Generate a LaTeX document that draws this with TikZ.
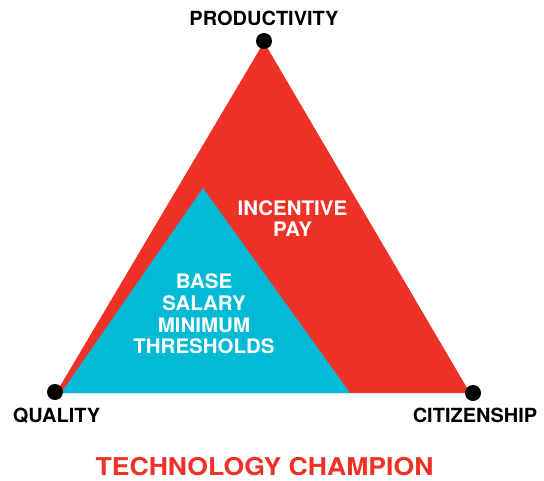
\documentclass[tikz,border=0pt]{standalone}
\usepackage{fontspec}
\setmainfont[FakeStretch=1.025]{TeX Gyre Heros}
\newfontfamily\titlefont[FakeStretch=1.085]{TeX Gyre Heros}
\usetikzlibrary{positioning}
\definecolor{champred}{RGB}{238,50,39}
\definecolor{basecyan}{RGB}{0,186,214}

\tikzset{
  corner/.style={circle, fill=black, inner sep=0pt, minimum size=16pt},
  vlabel/.style={font=\bfseries\fontsize{19.5}{21}\selectfont, inner sep=0pt},
  inlabel/.style={font=\bfseries\fontsize{20}{21.7}\selectfont, text=white, align=center, inner sep=0pt},
}

\begin{document}
\begin{tikzpicture}[x=1pt, y=-1pt]
          \useasboundingbox (0,0) rectangle (544,480);

          % the two triangles
          \fill[champred] (56,393) -- (264,42) -- (470,393) -- cycle;
          \fill[basecyan] (61,393) -- (203,188) -- (350,393) -- cycle;

          % corners
          \node[corner] (prod) at (264,41) {};
          \node[corner] (qual) at (55,392) {};
          \node[corner] (citi) at (473,393) {};

          \node[vlabel, above=7pt of prod] (prodlbl) {PRODUCTIVITY};
          \node[vlabel, below=8pt of qual, xshift=1.5pt] (quallbl) {QUALITY};
          \node[vlabel, below=7pt of citi, xshift=2pt] (citilbl) {CITIZENSHIP};

          % inside texts
          \node[inlabel] (incentive) at (292.5,218.5) {INCENTIVE\\PAY};
          \node[inlabel] (base) at (204,314) {BASE\\SALARY\\MINIMUM\\THRESHOLDS};

          \node[font=\titlefont\bfseries\fontsize{24.5}{26}\selectfont, text=champred, inner sep=0pt]
          (title) at (264.5,466.5) {TECHNOLOGY CHAMPION};
\end{tikzpicture}
\end{document}
